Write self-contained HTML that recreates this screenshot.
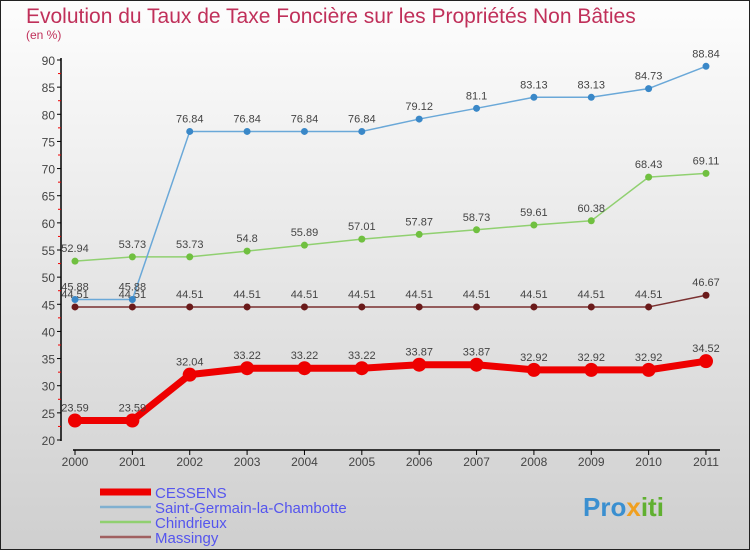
<!DOCTYPE html>
<html><head><meta charset="utf-8"><style>
body{margin:0;width:750px;height:550px;overflow:hidden;font-family:"Liberation Sans",sans-serif}
</style></head><body>
<svg width="750" height="550" xmlns="http://www.w3.org/2000/svg">
<defs><linearGradient id="bg" x1="0" y1="0" x2="0" y2="1"><stop offset="0" stop-color="#fdfdfd"/><stop offset="1" stop-color="#cfcfcf"/></linearGradient></defs>
<rect x="0.5" y="0.5" width="749" height="549" fill="url(#bg)" stroke="#222"/>
<text x="26" y="23" font-size="21" fill="#c0305a">Evolution du Taux de Taxe Foncière sur les Propriétés Non Bâties</text>
<text x="26" y="39" font-size="12" fill="#c0305a">(en %)</text>
<g id="axes"></g>
<g id="series"></g>
<g id="legend"></g>
<text x="583" y="516" font-size="26" font-weight="bold" fill="#3a8fd0">Pro<tspan fill="#f0a020">x</tspan><tspan fill="#60b030">iti</tspan></text>
</svg>
<script>
const years=["2000","2001","2002","2003","2004","2005","2006","2007","2008","2009","2010","2011"];
const yTicks=[20,25,30,35,40,45,50,55,60,65,70,75,80,85,90];
const cessens=[23.59,23.59,32.04,33.22,33.22,33.22,33.87,33.87,32.92,32.92,32.92,34.52];
const stGermain=[45.88,45.88,76.84,76.84,76.84,76.84,79.12,81.1,83.13,83.13,84.73,88.84];
const chindrieux=[52.94,53.73,53.73,54.8,55.89,57.01,57.87,58.73,59.61,60.38,68.43,69.11];
const massingy=[44.51,44.51,44.51,44.51,44.51,44.51,44.51,44.51,44.51,44.51,44.51,46.67];
const NS="http://www.w3.org/2000/svg";
const X=i=>75+i*(706-75)/11;
const Y=v=>440-(v-20)*380/70;
function mk(tag,attrs,parent){const e=document.createElementNS(NS,tag);for(const k in attrs)e.setAttribute(k,attrs[k]);parent.appendChild(e);return e;}
const ax=document.getElementById('axes');
let a=mk('line',{x1:61,y1:58,x2:61,y2:441,stroke:'#000','stroke-width':1.5},ax);


a=mk('line',{x1:73,y1:450,x2:720,y2:450,stroke:'#000','stroke-width':1.5},ax);


yTicks.forEach(v=>{
 const y=Y(v);
 mk('line',{x1:57,y1:y,x2:61,y2:y,stroke:'#000'},ax);
 if(v<90) mk('line',{x1:58,y1:y-2.7*5/5*5.43/2*0+(-13.57),x2:61,y2:y-13.57,stroke:'#e00'},ax);
 const t=mk('text',{x:55,y:y+5,'font-size':12,'text-anchor':'end',fill:'#444'},ax);
 t.textContent=v;
 
 
});
years.forEach((yr,i)=>{
 const x=X(i);
 mk('line',{x1:x,y1:450,x2:x,y2:455,stroke:'#000'},ax);
 const t=mk('text',{x:x,y:466,'font-size':12,'text-anchor':'middle',fill:'#444'},ax);
 t.textContent=yr;
 
 
});
const sg=document.getElementById('series');
function series(vals,color,dot,w,r,name){
 const g=mk('g',{},sg);
 
 
 mk('polyline',{points:vals.map((v,i)=>X(i)+','+Y(v)).join(' '),fill:'none',stroke:color,'stroke-width':w,'stroke-linejoin':'round'},g);
 vals.forEach((v,i)=>{
  const c=mk('circle',{cx:X(i),cy:Y(v),r:r,fill:dot},g);
  
  
  const t=mk('text',{x:X(i),y:Y(v)-9,'font-size':11,'text-anchor':'middle',fill:'#444'},g);
  t.textContent=v;
  
  
 });
}
series(massingy,'#7a3030','#6a1a1a',1.5,3.5,'massingy-series');
series(chindrieux,'#90d070','#70c040',1.5,3.5,'chindrieux-series');
series(stGermain,'#6aa8d8','#3a88c8',1.5,3.5,'saint-germain-series');
series(cessens,'#ee0000','#ee0000',7,7,'cessens-series');
const lg=document.getElementById('legend');
const leg=[["CESSENS","#ee0000",7],["Saint-Germain-la-Chambotte","#80b0d0",2.5],["Chindrieux","#90d070",2.5],["Massingy","#a06060",2.5]];
leg.forEach((l,i)=>{
 const y=492+i*15;
 const g=mk('g',{},lg);
 
 
 mk('line',{x1:100,y1:y,x2:151,y2:y,stroke:l[1],'stroke-width':l[2]},g);
 const t=mk('text',{x:155,y:y+6,'font-size':15,fill:'#5555ee'},g);
 t.textContent=l[0];
});
</script>
</body></html>
